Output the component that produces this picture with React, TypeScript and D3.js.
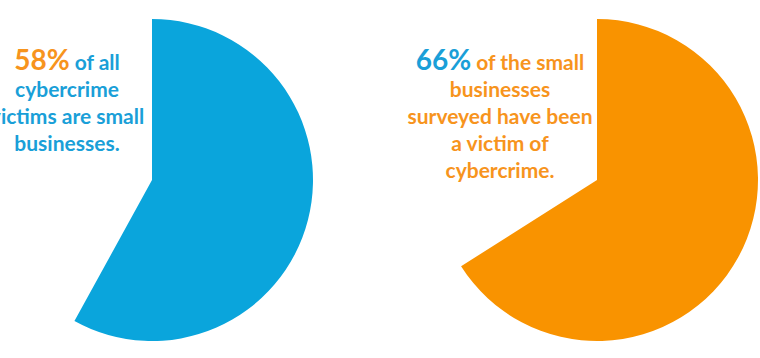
import React from "react";
import * as d3 from "d3";

const percents = [58, 66];
const wedgeColors = ["#0aa5dc", "#f99300"];
const accentColors = ["#f7941d", "#1a9fd8"];
const textColors = ["#1a9fd8", "#f7941d"];
const firstLines = ["of all", "of the small"];
const restLinesLeft = ["cybercrime", "victims are small", "businesses."];
const restLinesRight = ["businesses", "surveyed have been", "a victim of", "cybercrime."];
const restLines = [restLinesLeft, restLinesRight];

const W = 760;
const H = 358;
const centers = [
  { x: 152, y: 180 },
  { x: 597, y: 180 },
];
const textCenters = [67, 500];
const R = 161;

export default function App() {
  const arc = d3.arc<d3.PieArcDatum<number>>().innerRadius(0).outerRadius(R);
  const pie = d3.pie<number>().sort(null).value((d) => d);
  const font = "Lato, 'Open Sans', sans-serif";
  return (
    <svg
      width={W}
      height={H}
      style={{ position: "absolute", left: 0, top: 0, background: "#fff" }}
    >
      {percents.map((p, i) => {
        const arcs = pie([p, 100 - p]);
        const c = centers[i];
        const lines = restLines[i];
        return (
          <g key={i}>
            <path
              transform={`translate(${c.x},${c.y})`}
              d={arc(arcs[0]) || ""}
              fill={wedgeColors[i]}
            />
            <text
              x={textCenters[i]}
              y={70}
              textAnchor="middle"
              fontFamily={font}
              fontWeight={700}
            >
              <tspan fill={accentColors[i]} fontSize={28}>
                {p}%
              </tspan>
              <tspan fill={textColors[i]} fontSize={21} dx={5}>
                {firstLines[i]}
              </tspan>
            </text>
            {lines.map((l, j) => (
              <text
                key={j}
                x={textCenters[i]}
                y={70 + 27 * (j + 1)}
                textAnchor="middle"
                fontFamily={font}
                fontWeight={700}
                fontSize={21}
                fill={textColors[i]}
              >
                {l}
              </text>
            ))}
          </g>
        );
      })}
    </svg>
  );
}
